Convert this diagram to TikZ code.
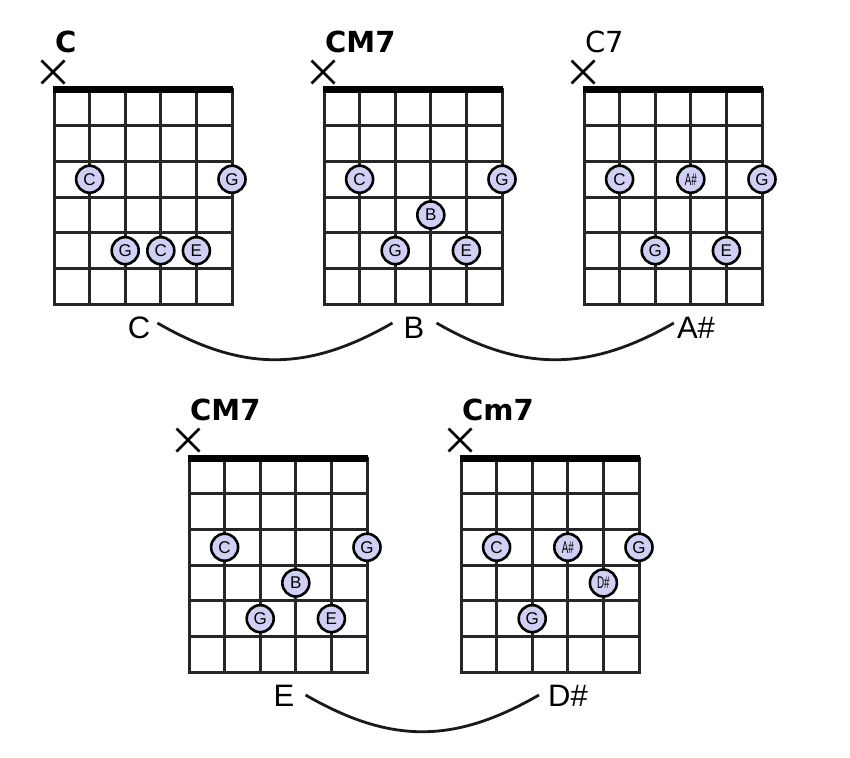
\documentclass[tikz,border=0pt]{standalone}
\usepackage{fontspec}
\setmainfont{Liberation Sans}
\newfontfamily\titlefont{DejaVu Sans}
\definecolor{dotfill}{RGB}{208,208,245}
\tikzset{
  gridline/.style={line width=3pt, draw=black!85, line cap=rect},
  nutline/.style={line width=7pt, draw=black, line cap=butt},
  notedot/.style={circle, draw=black, line width=2.6pt, fill=dotfill, minimum size=27pt, inner sep=0pt, font=\fontsize{17}{17}\selectfont},
  mutemark/.style={line width=2.5pt, draw=black},
  chordname/.style={anchor=base west, inner sep=0pt, font=\titlefont\bfseries\fontsize{29}{30}\selectfont},
  chordnamelight/.style={anchor=base west, inner sep=0pt, font=\titlefont\fontsize{29}{30}\selectfont},
  notelabel/.style={anchor=base, inner sep=0pt, font=\fontsize{31}{36}\selectfont},
  link/.style={line width=2.8pt, draw=black!90},
}
\newcommand\chordgrid{%
  \foreach \i in {0,...,5} \draw[gridline] (\i*35.6,0) -- (\i*35.6,214.2);
  \foreach \j in {1,...,6} \draw[gridline] (0,\j*35.7) -- (178,\j*35.7);
  \draw[nutline] (-1.3,0) -- (179.3,0);
  \draw[mutemark] (-12.5,-29.5) -- (10.5,-6.5) (-12.5,-6.5) -- (10.5,-29.5);
}
\newcommand\sharpnote[1]{\scalebox{0.58}[1]{#1\#}}
\begin{document}
\begin{tikzpicture}[x=1pt,y=-1pt]
\useasboundingbox (0,0) rectangle (850,757);

% ---- C ----
\begin{scope}[shift={(54,90)}]
  \chordgrid
  \node[chordname] (t1) at (1,-37) {C};
  \node[notedot] (c1a) at (35.6,89.25) {C};
  \node[notedot] (c1b) at (178,89.25) {G};
  \node[notedot] (c1c) at (71.2,160.65) {G};
  \node[notedot] (c1d) at (106.8,160.65) {C};
  \node[notedot] (c1e) at (142.4,160.65) {E};
\end{scope}

% ---- CM7 ----
\begin{scope}[shift={(324,90)}]
  \chordgrid
  \node[chordname] (t2) at (1,-37) {CM7};
  \node[notedot] (c2a) at (35.6,89.25) {C};
  \node[notedot] (c2b) at (178,89.25) {G};
  \node[notedot] (c2c) at (106.8,124.95) {B};
  \node[notedot] (c2d) at (71.2,160.65) {G};
  \node[notedot] (c2e) at (142.4,160.65) {E};
\end{scope}

% ---- C7 ----
\begin{scope}[shift={(584,90)}]
  \chordgrid
  \node[chordnamelight] (t3) at (1,-37) {C7};
  \node[notedot] (c3a) at (35.6,89.25) {C};
  \node[notedot] (c3b) at (106.8,89.25) {\sharpnote{A}};
  \node[notedot] (c3c) at (178,89.25) {G};
  \node[notedot] (c3d) at (71.2,160.65) {G};
  \node[notedot] (c3e) at (142.4,160.65) {E};
\end{scope}

% ---- CM7 (bottom) ----
\begin{scope}[shift={(189,458)}]
  \chordgrid
  \node[chordname] (t4) at (1,-38) {CM7};
  \node[notedot] (c4a) at (35.6,89.25) {C};
  \node[notedot] (c4b) at (178,89.25) {G};
  \node[notedot] (c4c) at (106.8,124.95) {B};
  \node[notedot] (c4d) at (71.2,160.65) {G};
  \node[notedot] (c4e) at (142.4,160.65) {E};
\end{scope}

% ---- Cm7 ----
\begin{scope}[shift={(461,458)}]
  \chordgrid
  \node[chordname] (t5) at (1,-38) {Cm7};
  \node[notedot] (c5a) at (35.6,89.25) {C};
  \node[notedot] (c5b) at (106.8,89.25) {\sharpnote{A}};
  \node[notedot] (c5c) at (178,89.25) {G};
  \node[notedot] (c5d) at (142.4,124.95) {\sharpnote{D}};
  \node[notedot] (c5e) at (71.2,160.65) {G};
\end{scope}

% ---- note labels ----
\node[notelabel] (lC) at (139,338) {C};
\node[notelabel] (lB) at (414,338) {B};
\node[notelabel] (lA) at (696,338) {A\#};
\node[notelabel] (lE) at (284,706) {E};
\node[notelabel] (lD) at (568,706) {D\#};

% ---- connecting arcs ----
\draw[link] ([xshift=7pt,yshift=15pt]lC.base east) .. controls +(85,49) and +(-85,49) .. ([xshift=-11pt,yshift=15pt]lB.base west);
\draw[link] ([xshift=12pt,yshift=15pt]lB.base east) .. controls +(85,49) and +(-85,49) .. ([xshift=-3pt,yshift=15pt]lA.base west);
\draw[link] ([xshift=11pt,yshift=11pt]lE.base east) .. controls +(85,49) and +(-85,49) .. ([xshift=-9pt,yshift=11pt]lD.base west);
\end{tikzpicture}
\end{document}
